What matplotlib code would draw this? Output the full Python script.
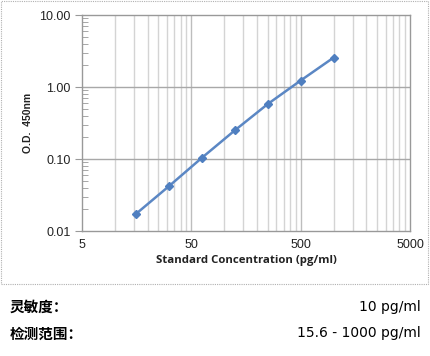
import matplotlib
matplotlib.use("Agg")
import matplotlib.pyplot as plt
from matplotlib.ticker import FixedLocator, NullFormatter, FixedFormatter
from matplotlib.patches import Rectangle

plt.rcParams['font.family'] = ['Liberation Sans', 'DejaVu Sans']

conc = [15.6, 31.25, 62.5, 125, 250, 500, 1000]
od = [0.0173, 0.042, 0.104, 0.25, 0.58, 1.23, 2.56]
x_ticks = [5, 50, 500, 5000]
x_tick_labels = ["5", "50", "500", "5000"]
y_ticks = [0.01, 0.1, 1, 10]
y_tick_labels = ["0.01", "0.10", "1.00", "10.00"]
x_label = "Standard Concentration (pg/ml)"
y_label = "O.D.  450nm"
info_labels = ["灵敏度：", "检测范围："]
info_values = ["10 pg/ml", "15.6 - 1000 pg/ml"]

W, H = 431, 356
fig = plt.figure(figsize=(W / 100, H / 100), dpi=100)
ax = fig.add_axes([82 / W, 1 - 231 / H, (410 - 82) / W, (231 - 15) / H])

ax.set_xscale('log')
ax.set_yscale('log')
ax.set_xlim(5, 5000)
ax.set_ylim(0.01, 10)

x_minor = [m * 10 ** e * 5 for e in range(0, 3) for m in range(2, 10)]
ax.xaxis.set_major_locator(FixedLocator(x_ticks))
ax.xaxis.set_major_formatter(FixedFormatter(x_tick_labels))
ax.xaxis.set_minor_locator(FixedLocator(x_minor))
ax.xaxis.set_minor_formatter(NullFormatter())
y_minor = [m * 10 ** e for e in range(-2, 1) for m in range(2, 10)]
ax.yaxis.set_major_locator(FixedLocator(y_ticks))
ax.yaxis.set_major_formatter(FixedFormatter(y_tick_labels))
ax.yaxis.set_minor_locator(FixedLocator(y_minor))
ax.yaxis.set_minor_formatter(NullFormatter())

for v in x_minor:
    ax.axvline(v, color='#d4d4d4', lw=1.0, zorder=0)
for v in x_ticks[1:-1]:
    ax.axvline(v, color='#bdbdbd', lw=1.0, zorder=0)
for v in y_ticks[1:-1]:
    ax.axhline(v, color='#a8a8a8', lw=1.0, zorder=0)

ax.tick_params(axis='x', which='both', length=0, labelsize=9, pad=6, colors='#222222')
ax.tick_params(axis='y', which='major', length=5, direction='out', labelsize=9,
               color='#999999', labelcolor='#222222', pad=3)
ax.tick_params(axis='y', which='minor', length=4, direction='in', color='#999999')
for s in ax.spines.values():
    s.set_color('#999999')
    s.set_linewidth(1.0)

ax.plot(conc, od, color='#5b87c4', lw=1.8, marker='D', markersize=4.2,
        markerfacecolor='#4f7fc0', markeredgecolor='#4f7fc0', zorder=3)

ax.set_xlabel(x_label, fontsize=8.2, fontweight='bold', color='#222222',
              family=['Open Sans', 'DejaVu Sans'], labelpad=3)
ax.set_ylabel(y_label, fontsize=7.5, fontweight='bold', color='#222222', labelpad=5)

fig.patches.append(Rectangle((1 / W, 1 - 284 / H), 427 / W, 283 / H, transform=fig.transFigure,
                             fill=False, ec='#b0b0b0', lw=0.8, ls=(0, (1, 1))))

for i, (lab, val) in enumerate(zip(info_labels, info_values)):
    yy = 1 - (307 + i * 26.5) / H
    fig.text(10 / W, yy, lab, fontsize=10.5, fontweight='bold', va='center', ha='left',
             family=['Noto Sans CJK SC', 'DejaVu Sans'])
    fig.text(421 / W, yy, val, fontsize=10, va='center', ha='right',
             family=['DejaVu Sans'])

fig.savefig('out.png', dpi=100)
